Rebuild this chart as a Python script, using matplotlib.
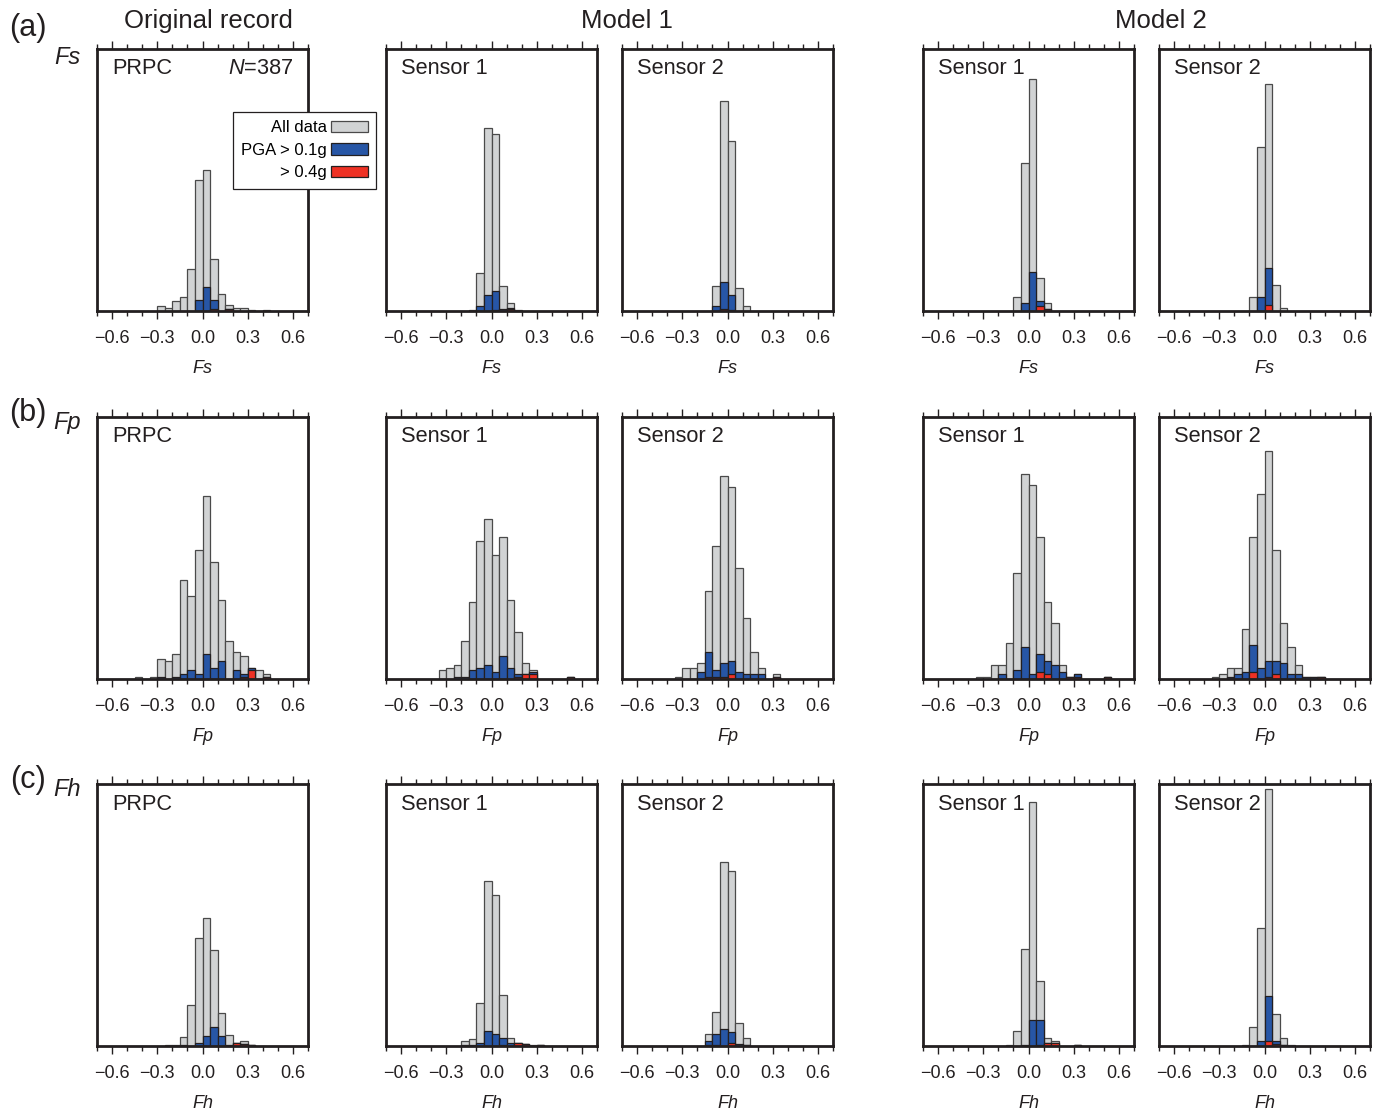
import numpy as np
import matplotlib.pyplot as plt
from matplotlib.patches import Patch
from matplotlib.ticker import MultipleLocator

plt.rcParams['font.family'] = ['Liberation Sans', 'DejaVu Sans']
plt.rcParams['mathtext.fontset'] = 'custom'
plt.rcParams['mathtext.it'] = 'Liberation Sans:italic'
plt.rcParams['mathtext.rm'] = 'Liberation Sans'

# number of records and histogram bins (left edges, width 0.05)
N = 387
bin_left = [-0.50, -0.45, -0.40, -0.35, -0.30, -0.25, -0.20, -0.15, -0.10, -0.05, 0.00,
            0.05, 0.10, 0.15, 0.20, 0.25, 0.30, 0.35, 0.40, 0.45, 0.50, 0.55]
bin_width = 0.05

group_titles = ["Original record", "Model 1", "Model 2"]
panel_names = ["PRPC", "Sensor 1", "Sensor 2", "Sensor 1", "Sensor 2"]
row_vars = ["Fs", "Fp", "Fh"]
row_tags = ["(a)", "(b)", "(c)"]
row_ymax = [0.6, 0.3, 0.6]

# counts per bin; order: PRPC, M1 sensor 1, M1 sensor 2, M2 sensor 1, M2 sensor 2
fs_all = [
    [0, 0, 0, 0, 4, 3, 9, 12, 37, 116, 125, 46, 15, 5, 3, 3, 1, 0, 1, 0, 0, 0],
    [0, 0, 0, 0, 0, 0, 0, 1, 34, 162, 157, 22, 7, 1, 0, 0, 0, 0, 0, 0, 0, 0],
    [0, 0, 0, 0, 0, 0, 0, 0, 22, 186, 151, 20, 4, 0, 0, 0, 0, 0, 0, 0, 0, 0],
    [0, 0, 0, 0, 0, 0, 0, 0, 12, 131, 206, 29, 7, 0, 0, 0, 0, 0, 0, 0, 0, 0],
    [0, 0, 0, 0, 0, 0, 0, 0, 12, 145, 201, 23, 3, 0, 0, 0, 0, 0, 0, 0, 0, 0],
]
fs_pga01 = [
    [0, 0, 0, 0, 0, 0, 0, 0, 0, 10, 21, 10, 0, 2, 0, 0, 0, 0, 0, 0, 0, 0],
    [0, 0, 0, 0, 0, 0, 0, 0, 4, 14, 18, 2, 3, 0, 0, 0, 0, 0, 0, 0, 0, 0],
    [0, 0, 0, 0, 0, 0, 0, 0, 4, 26, 14, 0, 0, 0, 0, 0, 0, 0, 0, 0, 0, 0],
    [0, 0, 0, 0, 0, 0, 0, 0, 0, 7, 35, 9, 2, 0, 0, 0, 0, 0, 0, 0, 0, 0],
    [0, 0, 0, 0, 0, 0, 0, 0, 0, 12, 38, 0, 0, 0, 0, 0, 0, 0, 0, 0, 0, 0],
]
fs_pga04 = [
    [0, 0, 0, 0, 0, 0, 0, 0, 0, 0, 0, 2, 0, 2, 0, 0, 0, 0, 0, 0, 0, 0],
    [0, 0, 0, 0, 0, 0, 0, 0, 0, 0, 1, 0, 2, 0, 0, 0, 0, 0, 0, 0, 0, 0],
    [0, 0, 0, 0, 0, 0, 0, 0, 0, 2, 1, 0, 0, 0, 0, 0, 0, 0, 0, 0, 0, 0],
    [0, 0, 0, 0, 0, 0, 0, 0, 0, 0, 0, 4, 2, 0, 0, 0, 0, 0, 0, 0, 0, 0],
    [0, 0, 0, 0, 0, 0, 0, 0, 0, 0, 5, 0, 0, 0, 0, 0, 0, 0, 0, 0, 0, 0],
]

fp_all = [
    [0, 1, 0, 1, 9, 8, 11, 44, 37, 57, 81, 52, 35, 17, 12, 10, 5, 4, 2, 0, 0, 0],
    [0, 0, 0, 4, 5, 6, 17, 34, 61, 71, 55, 63, 35, 21, 7, 4, 0, 0, 0, 0, 1, 0],
    [0, 0, 0, 1, 5, 5, 7, 39, 59, 90, 85, 49, 27, 12, 5, 0, 2, 0, 0, 0, 0, 0],
    [0, 0, 0, 1, 1, 6, 6, 16, 47, 91, 86, 63, 34, 25, 6, 1, 2, 0, 0, 0, 1, 0],
    [0, 0, 0, 1, 2, 5, 5, 22, 63, 82, 101, 57, 25, 14, 6, 1, 1, 1, 0, 0, 0, 0],
]
fp_pga01 = [
    [0, 0, 0, 0, 1, 0, 1, 2, 4, 2, 11, 5, 8, 0, 4, 2, 5, 0, 1, 0, 0, 0],
    [0, 0, 0, 0, 0, 1, 1, 4, 5, 6, 3, 10, 5, 2, 2, 3, 0, 0, 0, 0, 1, 0],
    [0, 0, 0, 0, 0, 0, 3, 12, 4, 7, 8, 3, 2, 2, 2, 0, 1, 0, 0, 0, 0, 0],
    [0, 0, 0, 0, 0, 0, 2, 0, 4, 14, 2, 11, 8, 6, 3, 1, 2, 0, 0, 0, 1, 0],
    [0, 0, 0, 0, 0, 1, 2, 3, 15, 5, 8, 8, 7, 2, 2, 1, 1, 1, 0, 0, 0, 0],
]
fp_pga04 = [
    [0, 0, 0, 0, 0, 0, 0, 0, 0, 0, 0, 0, 0, 0, 0, 1, 4, 0, 1, 0, 0, 0],
    [0, 0, 0, 0, 0, 0, 0, 0, 0, 0, 0, 0, 0, 1, 2, 2, 0, 0, 0, 0, 1, 0],
    [0, 0, 0, 0, 0, 0, 0, 1, 1, 1, 2, 0, 0, 0, 0, 0, 1, 0, 0, 0, 0, 0],
    [0, 0, 0, 0, 0, 0, 0, 0, 0, 0, 0, 3, 2, 0, 0, 1, 1, 0, 0, 0, 1, 0],
    [0, 0, 0, 0, 0, 0, 0, 0, 3, 0, 1, 2, 0, 0, 0, 0, 0, 1, 0, 0, 0, 0],
]

fh_all = [
    [0, 0, 0, 0, 0, 1, 1, 8, 36, 96, 113, 85, 29, 10, 3, 4, 1, 0, 0, 0, 0, 0],
    [0, 0, 0, 0, 0, 0, 4, 6, 38, 146, 134, 45, 7, 3, 2, 1, 1, 0, 0, 0, 0, 0],
    [0, 0, 0, 0, 0, 0, 0, 11, 30, 163, 155, 20, 7, 0, 0, 0, 0, 0, 0, 0, 0, 0],
    [0, 0, 0, 0, 0, 0, 0, 1, 13, 86, 216, 58, 7, 4, 0, 0, 1, 0, 0, 0, 0, 0],
    [0, 0, 0, 0, 0, 0, 0, 1, 17, 105, 228, 28, 7, 1, 0, 0, 0, 0, 0, 0, 0, 0],
]
fh_pga01 = [
    [0, 0, 0, 0, 0, 0, 0, 1, 0, 3, 9, 17, 9, 1, 3, 2, 1, 0, 0, 0, 0, 0],
    [0, 0, 0, 0, 0, 0, 1, 1, 3, 13, 11, 7, 3, 3, 2, 0, 1, 0, 0, 0, 0, 0],
    [0, 0, 0, 0, 0, 0, 0, 4, 11, 15, 12, 2, 1, 0, 0, 0, 0, 0, 0, 0, 0, 0],
    [0, 0, 0, 0, 0, 0, 0, 0, 0, 1, 23, 23, 3, 3, 0, 0, 1, 0, 0, 0, 0, 0],
    [0, 0, 0, 0, 0, 0, 0, 0, 0, 4, 44, 4, 1, 0, 0, 0, 0, 0, 0, 0, 0, 0],
]
fh_pga04 = [
    [0, 0, 0, 0, 0, 0, 0, 0, 0, 0, 0, 0, 0, 0, 3, 2, 1, 0, 0, 0, 0, 0],
    [0, 0, 0, 0, 0, 0, 0, 0, 0, 0, 0, 1, 0, 3, 2, 0, 1, 0, 0, 0, 0, 0],
    [0, 0, 0, 0, 0, 0, 0, 1, 1, 0, 3, 0, 1, 0, 0, 0, 0, 0, 0, 0, 0, 0],
    [0, 0, 0, 0, 0, 0, 0, 0, 0, 0, 0, 1, 3, 3, 0, 0, 1, 0, 0, 0, 0, 0],
    [0, 0, 0, 0, 0, 0, 0, 0, 0, 0, 4, 2, 1, 0, 0, 0, 0, 0, 0, 0, 0, 0],
]

rows = [(fs_all, fs_pga01, fs_pga04), (fp_all, fp_pga01, fp_pga04), (fh_all, fh_pga01, fh_pga04)]

gray = "#d1d3d4"
blue = "#2756a6"
red = "#ee3124"
ink = "#231f20"

# layout in pixels
W, H = 1381, 1110
col_left = [97, 386, 622, 923, 1159]
row_top = [49, 417, 784]
ax_w, ax_h = 211, 262

fig = plt.figure(figsize=(W / 100, H / 100), dpi=100)


def draw_bars(ax, counts, face, edge):
    x = np.array(bin_left)
    c = np.array(counts) / N
    m = c > 0
    ax.bar(x[m], c[m], width=bin_width, align="edge", color=face,
           edgecolor=edge, linewidth=0.9)


for r in range(3):
    all_c, c01, c04 = rows[r]
    for k in range(5):
        ax = fig.add_axes([col_left[k] / W, 1 - (row_top[r] + ax_h) / H, ax_w / W, ax_h / H])
        draw_bars(ax, all_c[k], gray, "#4a4a4a")
        draw_bars(ax, c01[k], blue, ink)
        draw_bars(ax, c04[k], red, ink)

        ax.set_xlim(-0.7, 0.7)
        ax.set_ylim(0, row_ymax[r])
        ax.set_yticks([])
        ax.set_xticks([-0.6, -0.3, 0.0, 0.3, 0.6])
        ax.set_xticklabels(["\u22120.6", "\u22120.3", "0.0", "0.3", "0.6"])
        ax.xaxis.set_minor_locator(MultipleLocator(0.1))
        ax.tick_params(axis="x", which="both", direction="out", top=True, bottom=True,
                       labelsize=13, colors=ink, width=1.0)
        ax.tick_params(axis="x", which="major", length=6, pad=8)
        ax.tick_params(axis="x", which="minor", length=3.5)
        for s in ax.spines.values():
            s.set_linewidth(2.0)
            s.set_color(ink)
        ax.set_xlabel(row_vars[r], fontsize=13, style="italic", labelpad=9, color=ink)

        ax.text(15 / ax_w, 1 - 20 / ax_h, panel_names[k], transform=ax.transAxes,
                fontsize=15.7, ha="left", va="center", color=ink)
        if r == 0 and k == 0:
            ax.text(1 - 14 / ax_w, 1 - 20 / ax_h, r"$N$=387", transform=ax.transAxes,
                    fontsize=15.7, ha="right", va="center", color=ink)

    fig.text(28 / W, 1 - (row_top[r] - 21 if r == 0 else row_top[r] - 4) / H, row_tags[r],
             fontsize=22, ha="center", va="center", color=ink)
    fig.text(67 / W, 1 - (row_top[r] + 8 if r == 0 else row_top[r] + 5) / H, row_vars[r],
             fontsize=17, style="italic", ha="center", va="center", color=ink)

# column group headers
for title, xc in zip(group_titles, [208, 627, 1161]):
    fig.text(xc / W, 1 - 21 / H, title, fontsize=18.5, ha="center", va="center", color=ink)

# legend
handles = [Patch(facecolor=gray, edgecolor="#4a4a4a", linewidth=0.9),
           Patch(facecolor=blue, edgecolor=ink, linewidth=0.9),
           Patch(facecolor=red, edgecolor=ink, linewidth=0.9)]
leg = fig.legend(handles, ["All data", "PGA > 0.1g", "> 0.4g"], loc="upper left",
                 bbox_to_anchor=(233 / W, 1 - 112 / H), markerfirst=False, fontsize=12,
                 handlelength=2.2, handleheight=0.65, handletextpad=0.25,
                 labelspacing=0.45, borderpad=0.5, borderaxespad=0, fancybox=False,
                 framealpha=1, edgecolor=ink)
leg.get_frame().set_linewidth(0.9)

fig.savefig("out.png", dpi=100)
